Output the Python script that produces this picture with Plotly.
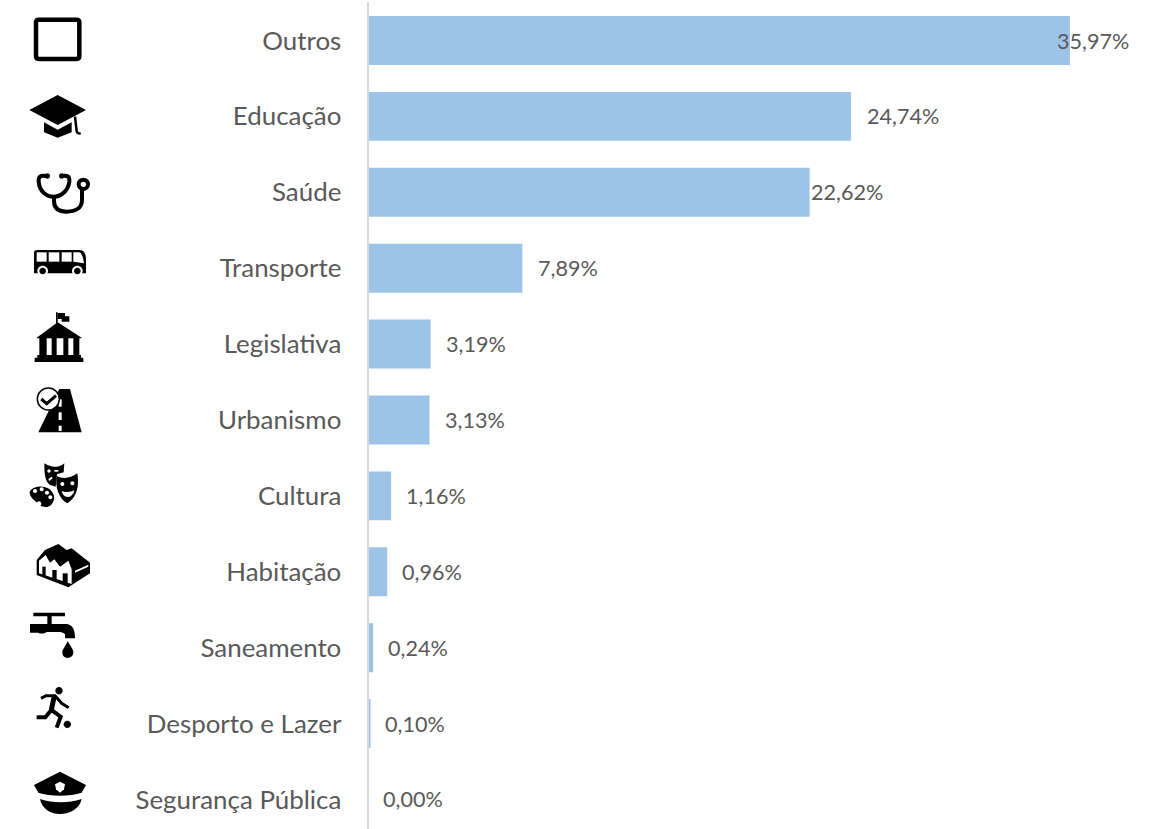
import re
import plotly.graph_objects as go

categories = ["Outros", "Educação", "Saúde", "Transporte", "Legislativa", "Urbanismo",
              "Cultura", "Habitação", "Saneamento", "Desporto e Lazer", "Segurança Pública"]
values = [35.97, 24.74, 22.62, 7.89, 3.19, 3.13, 1.16, 0.96, 0.24, 0.10, 0.00]
labels = ["35,97%", "24,74%", "22,62%", "7,89%", "3,19%", "3,13%", "1,16%", "0,96%", "0,24%", "0,10%", "0,00%"]
label_gaps = [-15, 14, -0.5, 13.5, 13.5, 13.5, 12.5, 12.5, 12.5, 12.5, 12.5]

W, H = 1158, 829
FONT = "Lato"
TXT = "#595959"
BAR = "#9dc3e6"

fig = go.Figure(go.Bar(x=values, y=categories, orientation="h", marker=dict(color=BAR, line_width=0),
                       hoverinfo="skip"))

for c, v, t, g in zip(categories, values, labels, label_gaps):
    fig.add_annotation(x=v, y=c, text=t, showarrow=False, xanchor="left", xshift=g, yshift=0,
                       font=dict(family=FONT, size=21.6, color=TXT))

shapes = []
def ic(path, ox, oy, s=1/3, fill="black", lw=0, lc="black"):
    def conv(m):
        x, y = float(m.group(1)), float(m.group(2))
        return f"{(ox + x * s) / W:.5f},{1 - (oy + y * s) / H:.5f}"
    p = re.sub(r"(-?[\d.]+)[ ,](-?[\d.]+)", conv, path)
    d = dict(type="path", xref="paper", yref="paper", path=p, layer="above",
             fillcolor=fill, line=dict(width=lw, color=lc))
    shapes.append(d)

def circ(cx, cy, r):
    k = 0.5523 * r
    return (f"M{cx-r},{cy} C{cx-r},{cy-k} {cx-k},{cy-r} {cx},{cy-r} C{cx+k},{cy-r} {cx+r},{cy-k} {cx+r},{cy} "
            f"C{cx+r},{cy+k} {cx+k},{cy+r} {cx},{cy+r} C{cx-k},{cy+r} {cx-r},{cy+k} {cx-r},{cy} Z")

N = "rgba(0,0,0,0)"
# Outros: rounded square
ic("M48,52 C48,47 51,44 56,44 L170,44 C175,44 178,47 178,52 L178,154 C178,159 175,162 170,162 L56,162 C51,162 48,159 48,154 Z",
   20, 5, fill=N, lw=4.5)
# Educação: cap
ic("M28,315 L113,270 L198,315 L113,360 Z", 20, 5)
ic("M72,352 L113,374 L155,352 L155,382 L113,398 L72,382 Z", 20, 5)
ic("M165,335 L170,378 C171,385 176,386 182,385", 20, 5, fill=N, lw=2.5)
# Saúde: stethoscope
ic("M80,513 C60,510 55,515 56,530 C58,560 80,575 102,575 C125,575 145,555 148,530 C149,515 145,510 125,513", 20, 5, fill=N, lw=4)
ic("M102,575 L102,590 C103,612 120,620 140,620 C165,620 186,610 186,585 L186,552", 20, 5, fill=N, lw=4)
ic(circ(190, 538, 14), 20, 5, fill="white", lw=4)
ic(circ(82, 513, 8), 20, 5)
ic(circ(125, 513, 8), 20, 5)
# Transporte: bus
ic("M42,745 C42,738 45,735 52,735 L180,735 C192,735 198,745 198,765 L198,805 L42,805 Z", 20, 5)
for a, b in [(50, 80), (86, 118), (125, 155)]:
    ic(f"M{a},742 L{b},742 L{b},770 L{a},770 Z", 20, 5, fill="white")
ic("M160,742 L178,742 C186,745 190,760 192,775 L160,770 Z", 20, 5, fill="white")
for cx in (68, 172):
    ic(circ(cx, 798, 16), 20, 5, fill="white")
    ic(circ(cx, 798, 10), 20, 5)
# Legislativa: building with flag
ic("M108,22 L113,22 L113,56 L108,56 Z", 20, 305)
ic("M113,24 L135,24 L135,34 L148,34 L148,50 L125,50 L125,42 L113,42 Z", 20, 305)
ic("M50,98 L113,52 L185,98 L185,100 L50,100 Z", 20, 305)
for a, b in [(58, 80), (95, 110), (130, 145), (160, 178)]:
    ic(f"M{a},98 L{b},98 L{b},155 L{a},155 Z", 20, 305)
ic("M52,150 L183,150 L183,158 L190,158 L190,171 L44,171 L44,158 L52,158 Z", 20, 305)
# Urbanismo: road with check
ic("M118,252 L150,252 L185,382 L55,382 Z", 20, 305)
for a, b in [(283, 305), (322, 345), (362, 378)]:
    ic(f"M116,{a} L125,{a} L125,{b} L116,{b} Z", 20, 305, fill="white")
ic(circ(85, 282, 33), 20, 305, fill="white", lw=1.5)
ic("M64,282 L80,296 L108,272", 20, 305, fill=N, lw=3)
# Cultura: masks and palette
ic("M58,25 C70,33 85,37 95,35 C105,34 112,30 118,25 L116,52 L96,58 L92,95 L75,90 C62,80 58,65 58,25 Z", 25, 455)
ic(circ(72, 48, 5), 25, 455, fill="white")
ic("M88,45 L100,45 L100,50 L88,50 Z", 25, 455, fill="white")
ic("M70,72 L80,65 L83,70 L73,78 Z", 25, 455, fill="white")
ic("M95,62 C110,72 135,72 157,55 C162,85 160,125 127,145 C100,130 90,95 95,62 Z", 25, 455, lw=0)
ic(circ(112, 87, 6), 25, 455, fill="white")
ic(circ(142, 85, 6), 25, 455, fill="white")
ic("M110,108 C120,112 135,112 148,106 C146,118 137,127 128,126 C118,125 112,118 110,108 Z", 25, 455, fill="white")
ic("M12,110 C22,92 50,88 70,98 C90,110 95,130 82,148 C70,163 50,160 38,148 C30,138 10,130 12,110 Z", 25, 455, lw=1.2, lc="white")
for cx, cy, r in [(30, 108, 6), (50, 103, 6), (66, 113, 6), (76, 127, 6), (42, 146, 7)]:
    ic(circ(cx, cy, r), 25, 455, fill="white")
# Habitação: houses
ic("M35,60 L60,30 L100,12 L125,30 L140,25 L195,68 L195,100 L130,142 L35,105 Z", 25, 540)
ic("M42,62 L62,45 L75,68 L88,58 L105,80 L130,62 L140,88 L140,132 L42,100 Z", 25, 540, fill="white")
ic("M150,92 L190,74 L190,80 L150,98 Z", 25, 540, fill="white")
for a, b, t, e in [(52, 62, 80, 108), (82, 95, 90, 120), (113, 128, 100, 131)]:
    ic(f"M{a},{t} L{b},{t} L{b},{e} L{a},{e} Z", 25, 540)
# Saneamento: tap
ic("M40,38 L135,38 L135,49 L95,49 L95,72 L140,72 C158,75 165,88 165,115 L135,115 L135,103 C130,97 125,96 115,96 L80,96 C72,102 60,102 55,98 L30,98 L30,72 L82,72 L82,49 L40,49 Z", 20, 600)
ic("M143,123 C152,140 160,148 160,157 C160,168 152,174 143,174 C134,174 127,168 127,157 C127,148 136,140 143,123 Z", 20, 600)
# Desporto e Lazer: player
ic(circ(117, 272, 11), 20, 600)
ic("M63,295 L78,287 L105,287 L125,310 L146,323", 20, 600, fill=N, lw=3)
ic("M103,287 L94,330", 20, 600, fill=N, lw=5)
ic("M94,330 L76,352 L50,352", 20, 600, fill=N, lw=4)
ic("M94,330 L122,350 L110,383", 20, 600, fill=N, lw=4)
ic(circ(142, 373, 11), 20, 600)
# Segurança Pública: police cap
ic("M42,555 L120,515 L198,555 L185,578 C150,590 90,590 55,578 Z", 20, 600)
ic("M105,553 L120,545 L135,553 L132,568 L120,578 L108,568 Z", 20, 600, fill="white")
ic("M60,597 C100,610 145,610 185,597 C180,625 150,642 120,642 C90,642 65,625 60,597 Z", 20, 600)

fig.update_layout(
    width=W, height=H, autosize=False, margin=dict(l=0, r=0, t=0, b=0),
    paper_bgcolor="white", plot_bgcolor="white", showlegend=False, bargap=0.355, shapes=shapes,
    xaxis=dict(domain=[368.5 / W, 1], range=[0, (W - 368.5) / 19.5], visible=False),
    yaxis=dict(domain=[0, 827 / H], range=[10.389, -0.5072], type="category",
               categoryorder="array", categoryarray=categories,
               showgrid=False, zeroline=False, showline=True, linecolor="#d9d9d9", linewidth=2,
               ticks="", ticklabelstandoff=20, automargin=False,
               tickfont=dict(family=FONT, size=25.9, color=TXT)),
)
fig.write_html("out.html", config=dict(displayModeBar=False),
               post_script="document.body.style.margin='0';document.documentElement.style.overflow='hidden';")
